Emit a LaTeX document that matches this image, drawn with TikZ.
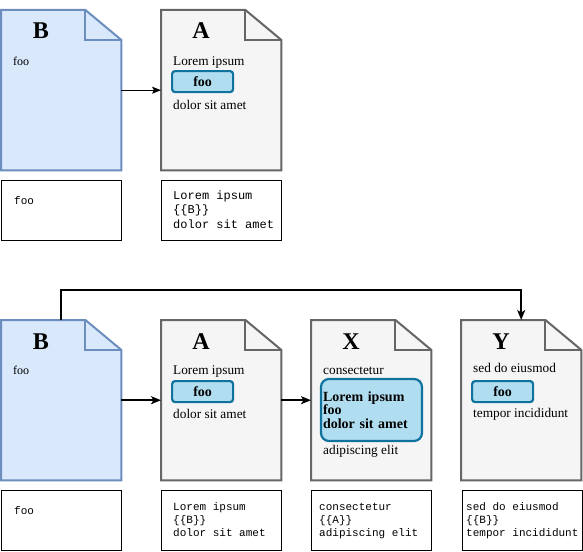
\documentclass[tikz,border=0pt]{standalone}
\usepackage{fontspec}
\setmainfont{Liberation Serif}
\setmonofont{Liberation Mono}
\usetikzlibrary{arrows.meta}
\definecolor{bfill}{HTML}{DAE8FC}
\definecolor{bline}{HTML}{6C8EBF}
\definecolor{gfill}{HTML}{F5F5F5}
\definecolor{gline}{HTML}{666666}
\definecolor{cfill}{HTML}{B1DDF0}
\definecolor{cline}{HTML}{10739E}
\tikzset{
  bdoc/.style={fill=bfill, draw=bline, line width=2pt, line join=miter},
  gdoc/.style={fill=gfill, draw=gline, line width=2pt, line join=miter},
  docframe/.style={minimum width=120pt, minimum height=160pt, inner sep=0pt, anchor=north west},
  title/.style={inner sep=0pt, anchor=base, font=\fontsize{24}{28}\selectfont\bfseries},
  txt/.style={inner sep=0pt, anchor=base west, font=\fontsize{13.3}{16}\selectfont},
  smalltxt/.style={inner sep=0pt, anchor=base west, font=\fontsize{12}{14}\selectfont},
  chip/.style={fill=cfill, draw=cline, line width=2.2pt, rounded corners=3pt, minimum width=61pt, minimum height=21pt, inner sep=0pt, anchor=north west, font=\fontsize{14}{16}\selectfont\bfseries},
  codebox/.style={draw=black, line width=0.8pt, minimum width=120pt, minimum height=60pt, inner sep=0pt, anchor=north west},
  code/.style={inner sep=0pt, anchor=base west, font=\fontsize{11}{13}\selectfont\ttfamily},
  codebig/.style={inner sep=0pt, anchor=base west, font=\fontsize{12}{14}\selectfont\ttfamily},
  thinarr/.style={line width=1pt, -{Stealth[length=9pt,width=7pt,inset=2pt]}},
  arr/.style={line width=1.6pt, -{Stealth[length=10pt,width=8pt,inset=2.5pt]}},
}
\newcommand\docpage[4]{%
  \node[docframe] (#1) at (#2,#3) {};
  \path[#4] (#1.north west) -- ([xshift=-36pt]#1.north east) -- ([yshift=-30pt]#1.north east) -- (#1.south east) -- (#1.south west) -- cycle;
  \path[#4, fill=none] ([xshift=-36pt]#1.north east) -- ([xshift=-36pt,yshift=-30pt]#1.north east) -- ([yshift=-30pt]#1.north east);
}
\begin{document}
\begin{tikzpicture}[x=1pt, y=-1pt]
\useasboundingbox (0,0) rectangle (583,551);
% ---------- top row ----------
\docpage{B1}{1}{10}{bdoc}
\docpage{A1}{161}{10}{gdoc}
\node[title] (tB1) at (41,39) {B};
\node[smalltxt] (fB1) at (13,65) {foo};
\node[title] (tA1) at (201,39) {A};
\node[txt] (lA1) at (173,65) {Lorem ipsum};
\node[chip] (cA1) at (171,70) {foo};
\node[txt] (dA1) at (173,109) {dolor sit amet};
\draw[thinarr] (B1.east) -- (A1.west);
\node[codebox] (kB1) at (1,180) {};
\node[code] (kB1a) at (14,204) {foo};
\node[codebox] (kA1) at (161,180) {};
\node[codebig] (kA1a) at (173,199) {Lorem ipsum};
\node[codebig] (kA1b) at (173,213.5) {\{\{B\}\}};
\node[codebig] (kA1c) at (173,228) {dolor sit amet};
% ---------- bottom row ----------
\docpage{B2}{1}{320}{bdoc}
\docpage{A2}{161}{320}{gdoc}
\docpage{X2}{311}{320}{gdoc}
\docpage{Y2}{461}{320}{gdoc}
\node[title] (tB2) at (41,349) {B};
\node[smalltxt] (fB2) at (13,374) {foo};
\node[title] (tA2) at (201,349) {A};
\node[txt] (lA2) at (173,374) {Lorem ipsum};
\node[chip] (cA2) at (171,380) {foo};
\node[txt] (dA2) at (173,418) {dolor sit amet};
\node[title] (tX2) at (351,349) {X};
\node[txt] (lX2) at (323,374) {consectetur};
\node[chip, minimum width=101pt, minimum height=62pt, rounded corners=8pt, text width=97pt, align=left, anchor=center, font=\fontsize{14}{13.5}\selectfont\bfseries] (cX2) at (371.5,410) {Lorem ipsum\\foo\\dolor sit amet};
\node[txt] (dX2) at (323,454) {adipiscing elit};
\node[title] (tY2) at (501,349) {Y};
\node[txt] (lY2) at (473,372) {sed do eiusmod};
\node[chip] (cY2) at (471,380) {foo};
\node[txt] (dY2) at (473,417) {tempor incididunt};
\draw[arr] (B2.east) -- (A2.west);
\draw[arr] (A2.east) -- (X2.west);
\draw[arr] (B2.north) -- ++(0,-30) -| (Y2.north);
\node[codebox] (kB2) at (1,490) {};
\node[code] (kB2a) at (14,514) {foo};
\node[codebox] (kA2) at (161,490) {};
\node[code] (kA2a) at (173,510) {Lorem ipsum};
\node[code] (kA2b) at (173,523) {\{\{B\}\}};
\node[code] (kA2c) at (173,536) {dolor sit amet};
\node[codebox] (kX2) at (311,490) {};
\node[code] (kX2a) at (319,510) {consectetur};
\node[code] (kX2b) at (319,523) {\{\{A\}\}};
\node[code] (kX2c) at (319,536) {adipiscing elit};
\node[codebox] (kY2) at (461.5,490) {};
\node[code] (kY2a) at (466,510) {sed do eiusmod};
\node[code] (kY2b) at (466,523) {\{\{B\}\}};
\node[code] (kY2c) at (466,536) {tempor incididunt};
\end{tikzpicture}
\end{document}
